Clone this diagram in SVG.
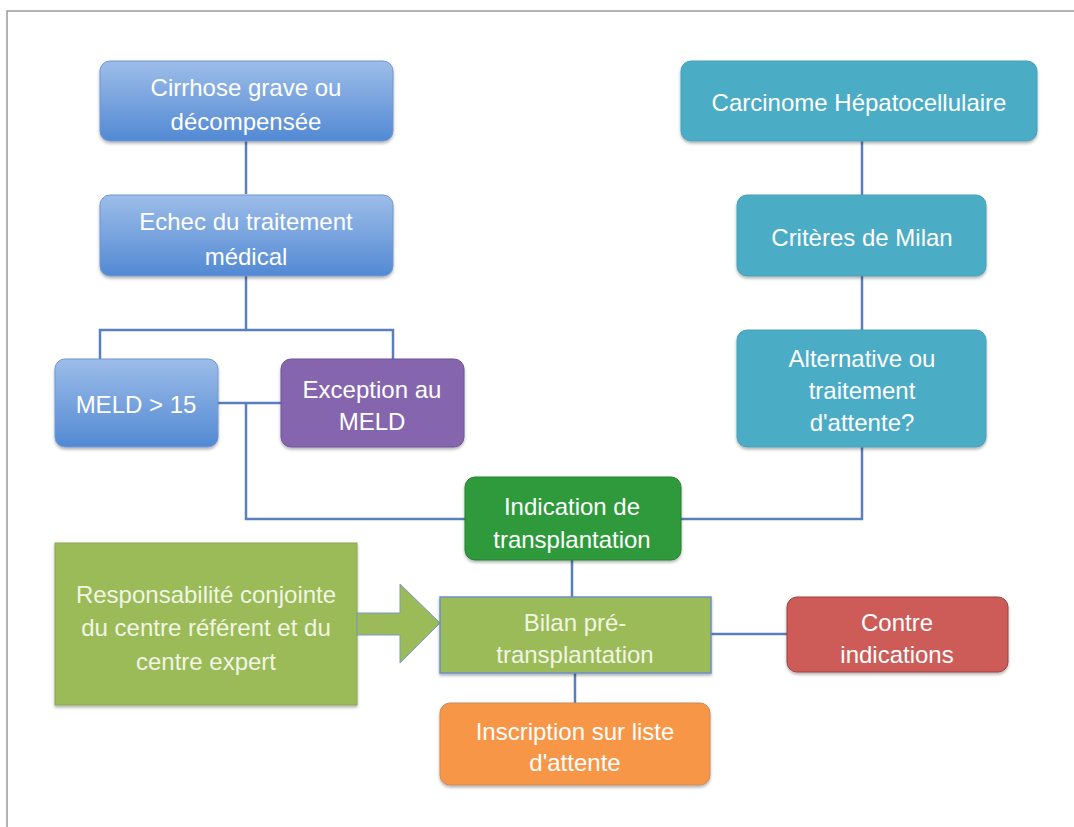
<svg xmlns="http://www.w3.org/2000/svg" width="1074" height="827" viewBox="0 0 1074 827">
<defs>
<linearGradient id="gBlue" x1="0" y1="0" x2="0" y2="1">
<stop offset="0" stop-color="#9dbde9"/>
<stop offset="1" stop-color="#5289d3"/>
</linearGradient>
<filter id="sh" x="-10%" y="-10%" width="120%" height="130%">
<feDropShadow dx="0" dy="2" stdDeviation="1.5" flood-color="#000" flood-opacity="0.3"/>
</filter>
</defs>
<style>
.t{font-family:"Liberation Sans",Arial,sans-serif;font-size:24px;fill:#ffffff;text-anchor:middle}
.tp{font-family:"Liberation Sans",Arial,sans-serif;font-size:24px;fill:#f1f5e4;text-anchor:middle}
.blue{fill:url(#gBlue);stroke:#6f97cf;stroke-width:1}
.cyan{fill:#4bacc6;stroke:#4aa0b8;stroke-width:1}
.purple{fill:#8566ae;stroke:#6f5497;stroke-width:1}
.dgreen{fill:#2f9a3a;stroke:#267f30;stroke-width:1}
.lgreen{fill:#9bbb59;stroke:#6f8fc9;stroke-width:1.5}
.red{fill:#cd5b59;stroke:#a04240;stroke-width:1}
.orange{fill:#f79646;stroke:#c98a5a;stroke-width:1}
.c{fill:none;stroke:#5a7fbe;stroke-width:2.5}
</style>
<rect x="0" y="0" width="1074" height="827" fill="#ffffff"/>
<path d="M7,827 V11 H1074" fill="none" stroke="#9a9a9a" stroke-width="1.5"/>

<g id="connectors">
<path class="c" d="M246,140 V194"/>
<path class="c" d="M246,276 V330 M100,359 V330 H393 V359"/>
<path class="c" d="M218,403 H281"/>
<path class="c" d="M246,403 V519 H465"/>
<path class="c" d="M862,140 V195 M862,276 V330 M862,447 V519 H681"/>
<path class="c" d="M572,560 V597"/>
<path class="c" d="M711,634 H787"/>
<path class="c" d="M575,673 V703"/>
</g>

<g id="n-cirrhose">
<rect class="blue" x="100" y="61" width="293" height="80" rx="10" filter="url(#sh)"/>
<text class="t" x="246" y="96">Cirrhose grave ou</text>
<text class="t" x="246" y="130">décompensée</text>
</g>
<g id="n-echec">
<rect class="blue" x="100" y="195" width="293" height="81" rx="10" filter="url(#sh)"/>
<text class="t" x="246" y="230">Echec du traitement</text>
<text class="t" x="246" y="265">médical</text>
</g>
<g id="n-meld">
<rect class="blue" x="55" y="359" width="163" height="88" rx="10" filter="url(#sh)"/>
<text class="t" x="136" y="413">MELD &gt; 15</text>
</g>
<g id="n-exception">
<rect class="purple" x="281" y="359" width="183" height="88" rx="10" filter="url(#sh)"/>
<text class="t" x="372" y="398">Exception au</text>
<text class="t" x="372" y="430">MELD</text>
</g>
<g id="n-carcinome">
<rect class="cyan" x="681" y="61" width="356" height="80" rx="10" filter="url(#sh)"/>
<text class="t" x="859" y="111">Carcinome Hépatocellulaire</text>
</g>
<g id="n-criteres">
<rect class="cyan" x="737" y="195" width="249" height="81" rx="10" filter="url(#sh)"/>
<text class="t" x="862" y="246">Critères de Milan</text>
</g>
<g id="n-alternative">
<rect class="cyan" x="737" y="330" width="249" height="117" rx="10" filter="url(#sh)"/>
<text class="t" x="862" y="367">Alternative ou</text>
<text class="t" x="862" y="399">traitement</text>
<text class="t" x="862" y="431">d'attente?</text>
</g>
<g id="n-indication">
<rect class="dgreen" x="465" y="477" width="216" height="83" rx="10" filter="url(#sh)"/>
<text class="t" x="572" y="515">Indication de</text>
<text class="t" x="572" y="548">transplantation</text>
</g>
<g id="n-responsabilite">
<rect x="55" y="543" width="302" height="162" fill="#9bbb59" stroke="#8aa658" stroke-width="1" filter="url(#sh)"/>
<text class="tp" x="206" y="603">Responsabilité conjointe</text>
<text class="tp" x="206" y="636">du centre référent et du</text>
<text class="tp" x="206" y="670">centre expert</text>
</g>
<g id="n-arrow">
<polygon points="357,613 400,613 400,584 440,623 400,663 400,635 357,635" fill="#9bbb59" stroke="#7f97c4" stroke-width="1"/>
</g>
<g id="n-bilan">
<rect class="lgreen" x="440" y="597" width="271" height="76" filter="url(#sh)"/>
<text class="tp" x="575" y="631">Bilan pré-</text>
<text class="tp" x="575" y="663">transplantation</text>
</g>
<g id="n-contre">
<rect class="red" x="787" y="597" width="221" height="75" rx="10" filter="url(#sh)"/>
<text class="t" x="897" y="631">Contre</text>
<text class="t" x="897" y="663">indications</text>
</g>
<g id="n-inscription">
<rect class="orange" x="440" y="703" width="270" height="82" rx="10" filter="url(#sh)"/>
<text class="t" x="575" y="740">Inscription sur liste</text>
<text class="t" x="575" y="771">d'attente</text>
</g>
</svg>
